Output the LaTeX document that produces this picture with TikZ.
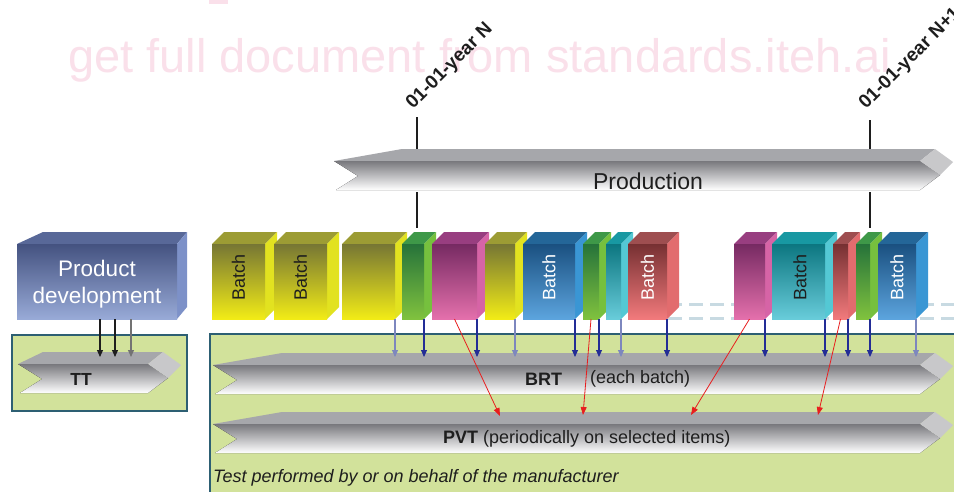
\documentclass[tikz,border=0pt]{standalone}
\usepackage{fontspec}
\setmainfont{Liberation Sans}
\usetikzlibrary{arrows.meta}
\definecolor{wmpink}{RGB}{250,224,234}
\definecolor{ink}{RGB}{30,30,30}
\definecolor{yelA}{RGB}{118,118,52}\definecolor{yelB}{RGB}{242,236,22}\definecolor{yelTc}{RGB}{156,156,52}\definecolor{yelSc}{RGB}{226,226,32}
\definecolor{grnA}{RGB}{38,115,58}\definecolor{grnM}{RGB}{66,178,72}\definecolor{grnB}{RGB}{128,194,62}\definecolor{grnTc}{RGB}{62,152,72}\definecolor{grnSc}{RGB}{118,192,62}
\definecolor{magA}{RGB}{118,42,98}\definecolor{magB}{RGB}{228,112,172}\definecolor{magTc}{RGB}{152,62,128}\definecolor{magSc}{RGB}{214,100,166}
\definecolor{bluA}{RGB}{26,80,128}\definecolor{bluB}{RGB}{92,164,222}\definecolor{bluTc}{RGB}{36,102,152}\definecolor{bluSc}{RGB}{58,150,212}
\definecolor{cyaA}{RGB}{12,118,128}\definecolor{cyaM}{RGB}{22,182,192}\definecolor{cyaB}{RGB}{104,204,218}\definecolor{cyaTc}{RGB}{24,152,162}\definecolor{cyaSc}{RGB}{84,200,212}
\definecolor{redA}{RGB}{118,48,50}\definecolor{redB}{RGB}{242,122,124}\definecolor{redTc}{RGB}{158,78,80}\definecolor{redSc}{RGB}{226,108,110}
\definecolor{pdA}{RGB}{68,82,128}\definecolor{pdB}{RGB}{152,170,215}\definecolor{pdT}{RGB}{88,104,152}\definecolor{pdS}{RGB}{125,145,200}
\definecolor{barA}{RGB}{120,120,125}\definecolor{barM}{RGB}{232,232,234}\definecolor{barTop}{RGB}{166,167,171}\definecolor{barDia}{RGB}{200,200,202}
\definecolor{boxgreen}{RGB}{210,226,155}\definecolor{boxedge}{RGB}{45,95,115}
\definecolor{arrblue}{RGB}{35,45,150}\definecolor{arrlight}{RGB}{125,135,190}\definecolor{arrred}{RGB}{232,30,30}
\definecolor{dashc}{RGB}{200,218,226}
\newcommand\cubeat[4]{%
  \fill[#4T] (#2,244) -- (#2+12,232) -- (#3+12,232) -- (#3,244) -- cycle;
  \fill[#4S] (#3,244) -- (#3+12,232) -- (#3+12,307) -- (#3,319) -- cycle;
  \fill[#4F] (#2,244) rectangle (#3,319);
  \coordinate (#1) at (#3,319);
  \coordinate (#1m) at ({(#2+#3)/2},319);
}
\newcommand\tdbar[4]{%
  \fill[barTop] (#1,#3+12) -- (#1+#4,#3) -- (#2+15,#3) -- (#2,#3+12) -- cycle;
  \fill[top color=barA, middle color=barM, bottom color=white]
    (#1,#3+12) -- (#2,#3+12) -- (#2+20,#3+26) -- (#2,#3+41) -- (#1+2,#3+41) -- (#1+24,#3+27) -- cycle;
  \fill[barDia] (#2,#3+12) -- (#2+15,#3) -- (#2+33,#3+13) -- (#2+20,#3+26) -- cycle;
}
\begin{document}
\begin{tikzpicture}[x=1pt,y=-1pt,
  yelT/.style={fill=yelTc}, yelS/.style={fill=yelSc}, yelF/.style={top color=yelA, bottom color=yelB},
  grnT/.style={fill=grnTc}, grnS/.style={fill=grnSc}, grnF/.style={top color=grnA, middle color=grnM, bottom color=grnB},
  magT/.style={fill=magTc}, magS/.style={fill=magSc}, magF/.style={top color=magA, bottom color=magB},
  bluT/.style={fill=bluTc}, bluS/.style={fill=bluSc}, bluF/.style={top color=bluA, bottom color=bluB},
  cyaT/.style={fill=cyaTc}, cyaS/.style={fill=cyaSc}, cyaF/.style={top color=cyaA, middle color=cyaM, bottom color=cyaB},
  redT/.style={fill=redTc}, redS/.style={fill=redSc}, redF/.style={top color=redA, bottom color=redB},
  barTop/.style={fill=barTop}, barDia/.style={fill=barDia},
  batchtxt/.style={rotate=90, inner sep=0pt, font=\fontsize{18}{18}\selectfont},
  barlabel/.style={inner sep=0pt, anchor=west, text=ink, font=\fontsize{18}{20}\selectfont},
  datelbl/.style={rotate=45, anchor=base west, inner sep=0pt, text=ink, font=\bfseries\fontsize{19}{19}\selectfont},
  marker/.style={draw=ink, line width=2.4pt},
  greenbox/.style={fill=boxgreen, draw=boxedge, line width=1.2pt},
  bluearr/.style={draw=arrblue, line width=1.1pt, -{Triangle[length=7pt,width=6pt]}},
  lightarr/.style={draw=arrlight, line width=1.1pt, -{Triangle[length=7pt,width=6pt]}},
  blackarr/.style={draw=ink, line width=1.1pt, -{Triangle[length=7pt,width=6pt]}},
  grayarr/.style={draw=black!55, line width=1.1pt, -{Triangle[length=7pt,width=6pt]}},
  redarr/.style={draw=arrred, line width=0.8pt, -{Triangle[length=8pt,width=6pt]}},
  dashline/.style={draw=dashc, line width=3pt, dash pattern=on 14pt off 7pt}
]
\useasboundingbox (0,0) rectangle (954,491);
\clip (0,0) rectangle (954,491);
\fill[white] (0,0) rectangle (954,491);
% watermark
\fill[wmpink] (209,0) rectangle (228,4);
\node[inner sep=0pt, anchor=base west, text=wmpink, font=\fontsize{47}{47}\selectfont] (wm) at (68,72) {get full document from standards.iteh.ai};
% year markers
\coordinate (mNa) at (417,117); \coordinate (mNb) at (417,150);
\coordinate (mNc) at (417,192); \coordinate (mNd) at (417,228);
\coordinate (mMa) at (870,120); \coordinate (mMb) at (870,150);
\coordinate (mMc) at (870,192); \coordinate (mMd) at (870,228);
\draw[marker] (mNa) -- (mNb); \draw[marker] (mNc) -- (mNd);
\draw[marker] (mMa) -- (mMb); \draw[marker] (mMc) -- (mMd);
\node[datelbl] (dN) at (413,110) {01-01-year N};
\node[datelbl] (dN1) at (866,110) {01-01-year N+1};
% production bar
\tdbar{334}{920}{149}{68}
\node[inner sep=0pt, text=ink, font=\fontsize{23}{23}\selectfont] (prod) at (648,181) {Production};
% dashed axis lines
\coordinate (da1) at (668,304); \coordinate (da2) at (960,304);
\coordinate (db1) at (668,318); \coordinate (db2) at (960,318);
\draw[dashline] (da1) -- (da2);
\draw[dashline] (db1) -- (db2);
% batches
\cubeat{y1}{212}{265}{yel}
\cubeat{y2}{274}{327}{yel}
\cubeat{y3}{342}{395}{yel}
\cubeat{g1}{402}{424}{grn}
\cubeat{m1}{432}{477}{mag}
\cubeat{y4}{485}{515}{yel}
\cubeat{b1}{523}{575}{blu}
\cubeat{g2}{583}{599}{grn}
\cubeat{c1}{606}{621}{cya}
\cubeat{r1}{628}{667}{red}
\cubeat{m2}{734}{765}{mag}
\cubeat{c2}{772}{825}{cya}
\cubeat{r2}{833}{848}{red}
\cubeat{g3}{856}{870}{grn}
\cubeat{b2}{878}{916}{blu}
\node[batchtxt, text=ink] (l1) at (238.5,277) {Batch};
\node[batchtxt, text=ink] (l2) at (300.5,277) {Batch};
\node[batchtxt, text=white] (l3) at (549,277) {Batch};
\node[batchtxt, text=white] (l4) at (647.5,277) {Batch};
\node[batchtxt, text=ink] (l5) at (800,277) {Batch};
\node[batchtxt, text=white] (l6) at (897,277) {Batch};
% product development
\fill[pdT] (17,244) -- (43,232) -- (187,232) -- (177,244) -- cycle;
\fill[pdS] (177,244) -- (187,232) -- (187,307) -- (177,319) -- cycle;
\fill[top color=pdA, bottom color=pdB] (17,244) rectangle (177,319);
\node[inner sep=0pt, text=white, anchor=base, font=\fontsize{22.5}{22.5}\selectfont] (pd1) at (97,276) {Product};
\node[inner sep=0pt, text=white, anchor=base, font=\fontsize{22.5}{22.5}\selectfont] (pd2) at (97,303) {development};
% green boxes
\draw[greenbox] (12,335) rectangle (187,411);
\draw[greenbox] (210,334) rectangle (970,500);
% test bars
\tdbar{18}{148}{352}{25}
\tdbar{213}{920}{353}{69}
\tdbar{213}{920}{412}{69}
\node[inner sep=0pt, text=ink, font=\bfseries\fontsize{17.5}{17.5}\selectfont] (tt) at (81,379) {TT};
\node[barlabel, font=\bfseries\fontsize{18}{20}\selectfont] (brt) at (525,379) {BRT};
\node[barlabel] (each) at (590,379) {(each batch)};
\node[barlabel] (pvt) at (443,439) {\textbf{PVT} (periodically on selected items)};
\node[inner sep=0pt, anchor=west, text=ink, font=\itshape\fontsize{18}{20}\selectfont] (tp) at (213,478) {Test performed by or on behalf of the manufacturer};
% arrows product development -> TT
\coordinate (pa1) at (100,319); \coordinate (pa2) at (115,319); \coordinate (pa3) at (131,319);
\coordinate (ttT) at (0,357);
\draw[blackarr] (pa1) -- (pa1 |- ttT);
\draw[blackarr] (pa2) -- (pa2 |- ttT);
\draw[grayarr] (pa3) -- (pa3 |- ttT);
% batch -> BRT
\coordinate (brtT) at (0,357);
\foreach \b in {g1,m1,b1,g2,r1,m2,c2,r2,g3} \draw[bluearr] (\b) -- (\b |- brtT);
\foreach \b in {y3,y4,c1,b2} \draw[lightarr] (\b) -- (\b |- brtT);
% selected items -> PVT
\coordinate (pv1) at (500,416); \coordinate (pv2) at (583,415);
\coordinate (pv3) at (691,415); \coordinate (pv4) at (818,415);
\draw[redarr] (m1m) -- (pv1);
\draw[redarr] (g2m) -- (pv2);
\draw[redarr] (m2m) -- (pv3);
\draw[redarr] (r2m) -- (pv4);
\end{tikzpicture}
\end{document}
